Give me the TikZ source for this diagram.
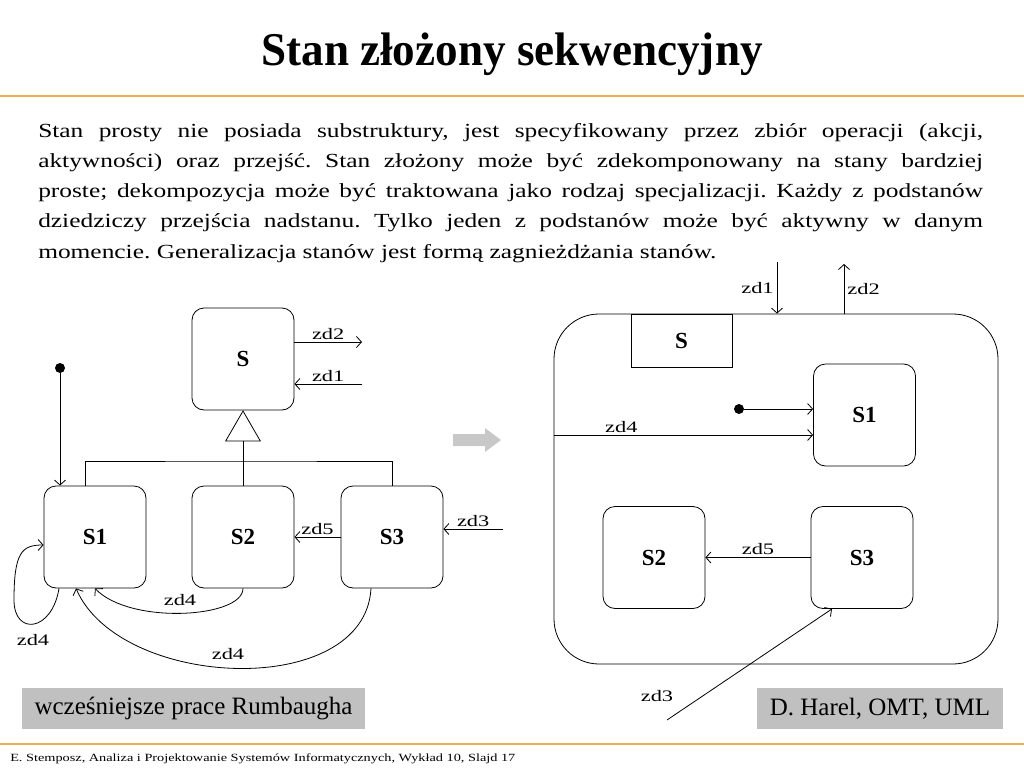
\documentclass[tikz,border=0pt]{standalone}
\usepackage{fontspec}
\setmainfont{Liberation Serif}
\usetikzlibrary{positioning, arrows.meta, shapes.geometric}
\definecolor{slideorange}{RGB}{240,172,80}
\definecolor{notegray}{RGB}{192,192,192}
\definecolor{arrowgray}{RGB}{200,200,200}

\tikzset{
  stbox/.style={draw, rounded corners=12pt, minimum width=102pt, minimum height=102pt,
    font=\fontsize{23}{23}\selectfont\bfseries, line width=0.8pt},
  lbl/.style={font=\fontsize{16}{16}\selectfont, inner sep=2pt, xscale=1.4},
  tr/.style={-{Straight Barb[length=5pt,width=11pt]}, line width=0.8pt},
  note/.style={fill=notegray, minimum height=41pt, font=\fontsize{25}{25}\selectfont},
  body/.style={anchor=base west, inner sep=0pt, xscale=1.27, font=\fontsize{20}{30}\selectfont},
  dot/.style={circle, fill, inner sep=0pt, minimum size=10pt}
}

\begin{document}
\frenchspacing
\begin{tikzpicture}[x=1pt, y=-1pt]
    \useasboundingbox (0,0) rectangle (1024,768);
    
    \node[anchor=base, xscale=0.96, font=\fontsize{47}{47}\selectfont\bfseries] (title) at (512,65) {Stan złożony sekwencyjny};
    \draw[slideorange, line width=1.2pt] (0,96) -- (1024,96);
    
    \foreach \ln [count=\i] in {
        {Stan prosty nie posiada substruktury, jest specyfikowany przez zbiór operacji (akcji,},
        {aktywności) oraz przejść. Stan złożony może być zdekomponowany na stany bardziej},
        {proste; dekompozycja może być traktowana jako rodzaj specjalizacji. Każdy z podstanów},
        {dziedziczy przejścia nadstanu. Tylko jeden z podstanów może być aktywny w danym}} {
        \node[body] (line\i) at (38,{106.75+30.25*\i}) {\makebox[744pt][s]{\ln}};
    }
    \node[body] (line5) at (38,258) {momencie. Generalizacja stanów jest formą zagnieżdżania stanów.};
    
    % wczesniejsze prace Rumbaugha
    \node[stbox] (S) at (243,359) {S};
    \node[stbox] (S1) at (95,537) {S1};
    \node[stbox] (S2) at (243,537) {S2};
    \node[stbox] (S3) at (392,537) {S3};
    \node[regular polygon, regular polygon sides=3, draw, inner sep=0pt, minimum size=40pt, line width=0.8pt] (gen) at (243,431) {};
    \coordinate (bar) at (243,461);
    \draw[line width=0.8pt] (S2.north) -- (gen.south);
    \draw[line width=0.8pt] ([xshift=-10pt]S1.north) |- (bar) -| (S3.north);
    
    \node[dot] (init) at (60,368) {};
    \draw[tr] (init) -- (init |- S1.north);
    
    \coordinate (zdout) at (362,342);
    \coordinate (zdin) at (362,384);
    \coordinate (zdthree) at (503,529);
    \draw[tr] (S.east |- zdout) -- (zdout) node[midway, above, lbl] {zd2};
    \draw[tr] (zdin) -- (S.east |- zdin) node[midway, above, lbl] {zd1};
    \draw[tr] (zdthree) -- (S3.east |- zdthree) node[midway, above, lbl] {zd3};
    \draw[tr] (S3.west) -- (S2.east) node[midway, above, lbl] {zd5};
    
    \draw[tr] ([xshift=-36pt]S1.south) .. controls (52,632) and (14,636) .. (14,600)
        .. controls (14,552) and (22,545) .. ([yshift=-8pt]S1.west);
    \node[lbl] (loop) at (33,640) {zd4};
    \draw[tr] (S2.south) .. controls (243,618) and (130,625) .. (S1.south);
    \node[lbl] (ltwo) at (180,600) {zd4};
    \draw[tr] ([xshift=-21pt]S3.south) .. controls (365,700) and (120,690) .. ([xshift=-19pt]S1.south);
    \node[lbl] (lthree) at (228,654) {zd4};
    
    \fill[arrowgray] (453,434) -- (485,434) -- (485,428) -- (501,440) -- (485,452) -- (485,446) -- (453,446) -- cycle;
    
    % D. Harel, OMT, UML
    \node[draw, rounded corners=45pt, minimum width=444pt, minimum height=350pt, line width=0.8pt] (comp) at (776,489) {};
    \node[draw, minimum width=101pt, minimum height=53pt, line width=0.8pt,
        font=\fontsize{23}{23}\selectfont\bfseries] (Stab) at (681.5,340.5) {S};
    \node[stbox] (R1) at (864.5,415) {S1};
    \node[stbox] (R2) at (654,557.5) {S2};
    \node[stbox] (R3) at (862,557.5) {S3};
    
    \coordinate (rin) at (777,262);
    \coordinate (rout) at (844,264);
    \draw[tr] (rin) -- (rin |- comp.north) node[midway, left, lbl] {zd1};
    \draw[tr] (rout |- comp.north) -- (rout) node[midway, right, lbl] {zd2};
    
    \node[dot] (rinit) at (739,409) {};
    \draw[tr] (rinit) -- (rinit -| R1.west);
    \coordinate (rfour) at (554,435);
    \draw[tr] (rfour) -- (rfour -| R1.west) node[pos=0.26, above, lbl] {zd4};
    \draw[tr] (R3.west) -- (R2.east) node[midway, above, lbl] {zd5};
    \coordinate (rthree) at (667,720);
    \draw[tr] (rthree) -- ([xshift=-30pt]R3.south);
    \node[lbl] (lrthree) at (657,696) {zd3};
    
    \node[note, minimum width=343pt] (early) at (193.5,708.5) {wcześniejsze prace Rumbaugha};
    \node[note, minimum width=246pt] (harel) at (880,708.5) {D. Harel, OMT, UML};
    
    \draw[slideorange, line width=1.2pt] (0,744) -- (1024,744);
    \node[anchor=base west, xscale=1.3, font=\fontsize{11}{11}\selectfont, inner sep=0pt] (foot) at (10,761) {E. Stemposz, Analiza i Projektowanie Systemów Informatycznych, Wykład 10, Slajd 17};
\end{tikzpicture}
\end{document}
